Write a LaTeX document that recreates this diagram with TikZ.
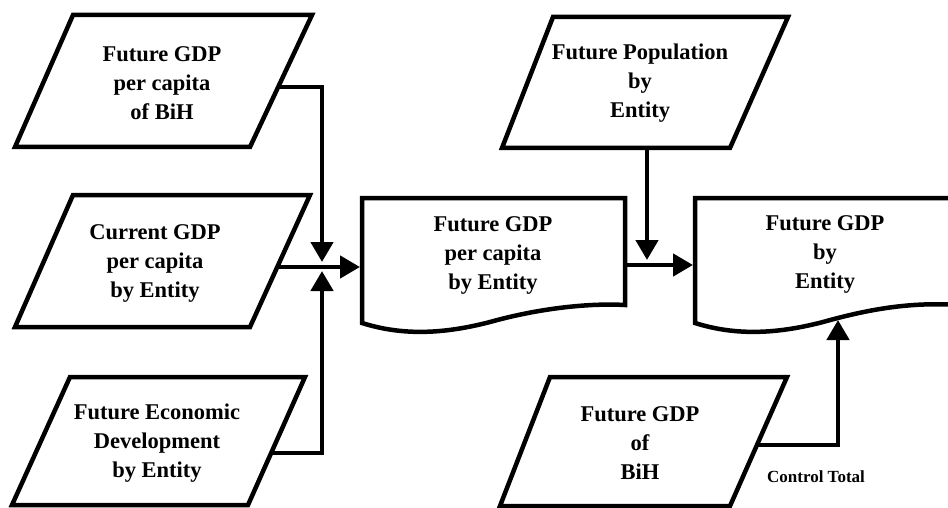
\documentclass[tikz,border=0pt]{standalone}
\usepackage{fontspec}
\setmainfont{Liberation Serif}
\usetikzlibrary{arrows.meta}
\begin{document}
\begin{tikzpicture}[x=1pt,y=-1pt,
  shapeline/.style={line width=4.5pt, line join=miter},
  conn/.style={line width=4.5pt, line join=miter, -{Triangle[length=20pt,width=22pt]}},
  txt/.style={font=\fontsize{22.5}{29}\selectfont\bfseries, align=center, inner sep=0pt},
  smalltxt/.style={font=\fontsize{17}{20}\selectfont\bfseries, inner sep=0pt}]
\useasboundingbox (0,0) rectangle (948,508);
\clip (0,0) rectangle (948,508);

% input parallelograms
\draw[shapeline] (73,15) -- (312,15) -- (250,147) -- (15,147) -- cycle;
\draw[shapeline] (73,195) -- (310,195) -- (250,327) -- (15,327) -- cycle;
\draw[shapeline] (70,377) -- (305,377) -- (248,505) -- (12,505) -- cycle;
\draw[shapeline] (553,17) -- (788,17) -- (730,148) -- (502,148) -- cycle;
\draw[shapeline] (550,377) -- (787,377) -- (730,506) -- (500,506) -- cycle;

% document shapes
\draw[shapeline] (362,323) -- (362,198) -- (625,198) -- (625,305)
  .. controls (590,303) and (540,308) .. (490,322)
  .. controls (440,335) and (400,335) .. (362,323) -- cycle;
\draw[shapeline] (695,323) -- (695,198) -- (960,198) -- (960,305)
  .. controls (913,302) and (873,308) .. (823,322)
  .. controls (773,335) and (733,335) .. (695,323) -- cycle;

% labels
\node[txt] (gdpBiH) at (162,83) {Future GDP\\per capita\\of BiH};
\node[txt] (curGDP) at (155,263) {Current GDP\\per capita\\by Entity};
\node[txt] (econDev) at (157,443) {Future Economic\\Development\\by Entity};
\node[txt] (gdpPC) at (493,255) {Future GDP\\per capita\\by Entity};
\node[txt] (pop) at (640,83) {Future Population\\by\\Entity};
\node[txt] (gdpEnt) at (825,254) {Future GDP\\by\\Entity};
\node[txt] (gdpTotal) at (640,443) {Future GDP\\of\\BiH};
\node[smalltxt] (ctrl) at (816,477) {Control Total};

% connector anchor points
\coordinate (o1) at (278,87);
\coordinate (o2) at (277,267);
\coordinate (o3) at (271,453);
\coordinate (j1top) at (322,262);
\coordinate (j1bot) at (322,271);
\coordinate (in1) at (360,267);
\coordinate (o4) at (627,265);
\coordinate (in2) at (693,265);
\coordinate (popout) at (647,148);
\coordinate (j2) at (647,260);
\coordinate (o5) at (757,445);
\coordinate (in3) at (838,320);

% connectors
\draw[conn] (o1) -| (j1top);
\draw[conn] (o2) -- (in1);
\draw[conn] (o3) -| (j1bot);
\draw[conn] (o4) -- (in2);
\draw[conn] (popout) -- (j2);
\draw[conn] (o5) -| (in3);
\end{tikzpicture}
\end{document}
